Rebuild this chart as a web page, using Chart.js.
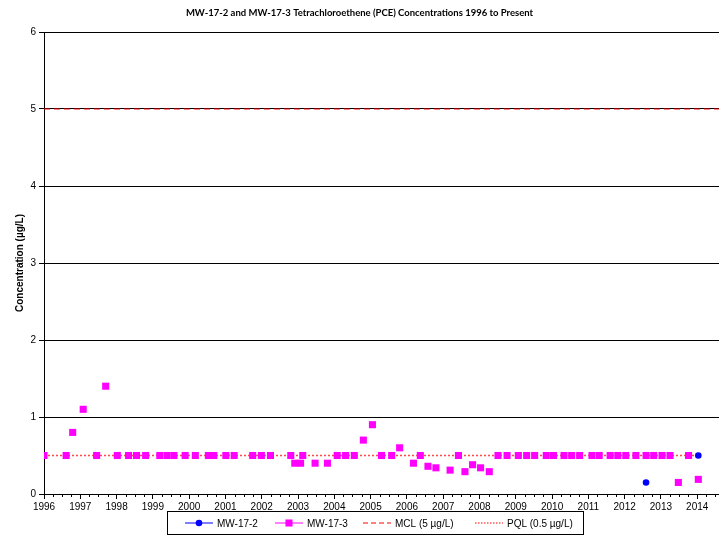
<!DOCTYPE html>
<html>
<head>
<meta charset="utf-8">
<title>MW-17-2 and MW-17-3 PCE</title>
<script src="https://cdn.jsdelivr.net/npm/chart.js@4.4.1/dist/chart.umd.min.js"></script>
<style>
  html, body { margin: 0; padding: 0; background: #fff; }
  #wrap { width: 719px; height: 540px; }
</style>
</head>
<body>
<div id="wrap"><canvas id="pce" width="719" height="540"></canvas></div>
<script>
'use strict';

// ── Data (sample dates as decimal years, concentrations in µg/L) ────────────

const mw172Dates  = [2012.59, 2014.03];
const mw172Values = [0.15, 0.5];

const mw173Dates = [
  1996.00, 1996.61, 1996.79, 1997.08, 1997.45, 1997.70, 1998.02, 1998.33,
  1998.55, 1998.80, 1999.19, 1999.39, 1999.58, 1999.89, 2000.17, 2000.53,
  2000.68, 2001.01, 2001.24, 2001.75, 2001.99, 2002.24, 2002.80, 2002.91,
  2003.07, 2003.13, 2003.47, 2003.81, 2004.08, 2004.31, 2004.55, 2004.80,
  2005.05, 2005.30, 2005.58, 2005.80, 2006.18, 2006.37, 2006.58, 2006.80,
  2007.19, 2007.42, 2007.60, 2007.81, 2008.03, 2008.27, 2008.51, 2008.76,
  2009.07, 2009.30, 2009.52, 2009.84, 2010.04, 2010.33, 2010.54, 2010.76,
  2011.10, 2011.30, 2011.60, 2011.81, 2012.03, 2012.31, 2012.59, 2012.80,
  2013.03, 2013.25, 2013.48, 2013.76, 2014.03,
];
const mw173Values = [
  0.5, 0.5, 0.8, 1.1, 0.5, 1.4, 0.5, 0.5,
  0.5, 0.5, 0.5, 0.5, 0.5, 0.5, 0.5, 0.5,
  0.5, 0.5, 0.5, 0.5, 0.5, 0.5, 0.5, 0.4,
  0.4, 0.5, 0.4, 0.4, 0.5, 0.5, 0.5, 0.7,
  0.9, 0.5, 0.5, 0.6, 0.4, 0.5, 0.36, 0.34,
  0.31, 0.5, 0.29, 0.38, 0.34, 0.29, 0.5, 0.5,
  0.5, 0.5, 0.5, 0.5, 0.5, 0.5, 0.5, 0.5,
  0.5, 0.5, 0.5, 0.5, 0.5, 0.5, 0.5, 0.5,
  0.5, 0.5, 0.15, 0.5, 0.19,
];

// Regulatory limits, drawn as flat reference lines
const mclDates  = [1996, 2014.6];
const mclValues = [5, 5];
const pqlDates  = [1996, 2014.03];
const pqlValues = [0.5, 0.5];

const seriesLabels = ['MW-17-2', 'MW-17-3', 'MCL (5 µg/L)', 'PQL (0.5 µg/L)'];

const X_MIN = 1996;
const X_MAX = 2014.6;
const Y_MIN = 0;
const Y_MAX = 6;

const ARIAL = "'Liberation Sans', Arial, sans-serif";

function pairs(xs, ys) {
  return xs.map((x, i) => ({ x: x, y: ys[i] }));
}

// ── Plugin: quarterly minor ticks + boxed legend under the axis ─────────────

const extrasPlugin = {
  id: 'extras',
  afterDraw(chart) {
    const ctx = chart.ctx;
    const xs = chart.scales.x;
    const yBase = chart.chartArea.bottom;

    // minor ticks every quarter year
    ctx.save();
    ctx.strokeStyle = '#000';
    ctx.lineWidth = 1;
    ctx.beginPath();
    for (let v = X_MIN; v <= X_MAX + 1e-6; v += 0.25) {
      if (Math.abs(v - Math.round(v)) < 1e-6) continue;
      const px = Math.round(xs.getPixelForValue(v)) + 0.5;
      ctx.moveTo(px, yBase);
      ctx.lineTo(px, yBase + 3);
    }
    ctx.stroke();
    ctx.restore();

    // legend
    const box = { x: 167.5, y: 511.5, w: 416, h: 23 };
    const cy = box.y + box.h / 2;
    const slots = [185, 275, 363, 475];
    const lineLen = 28;

    ctx.save();
    ctx.strokeStyle = '#000';
    ctx.lineWidth = 1;
    ctx.strokeRect(box.x, box.y, box.w, box.h);

    ctx.font = '10px ' + ARIAL;
    ctx.textBaseline = 'middle';
    ctx.textAlign = 'left';

    chart.data.datasets.forEach((ds, i) => {
      const x0 = slots[i];
      ctx.save();
      ctx.strokeStyle = ds.legendLine || ds.borderColor;
      ctx.lineWidth = 1;
      ctx.setLineDash(ds.legendDash || []);
      ctx.beginPath();
      ctx.moveTo(x0, cy);
      ctx.lineTo(x0 + lineLen, cy);
      ctx.stroke();
      ctx.restore();

      if (ds.pointRadius > 0) {
        ctx.fillStyle = ds.pointBackgroundColor;
        ctx.strokeStyle = ds.pointBackgroundColor;
        Chart.helpers.drawPoint(ctx, {
          pointStyle: ds.pointStyle,
          radius: ds.pointRadius,
          borderWidth: 0,
          rotation: 0,
        }, x0 + lineLen / 2, cy);
      }

      ctx.fillStyle = '#000';
      ctx.fillText(ds.label, x0 + lineLen + 4, cy + 1);
    });
    ctx.restore();
  },
};

// ── Chart ───────────────────────────────────────────────────────────────────

new Chart(document.getElementById('pce'), {
  type: 'scatter',
  data: {
    datasets: [
      {
        label: seriesLabels[0],
        data: pairs(mw172Dates, mw172Values),
        showLine: false,
        pointStyle: 'circle',
        pointRadius: 3.3,
        pointBackgroundColor: '#0000ff',
        pointBorderWidth: 0,
        borderColor: '#0000ff',
      },
      {
        label: seriesLabels[1],
        data: pairs(mw173Dates, mw173Values),
        showLine: false,
        pointStyle: 'rect',
        pointRadius: 5,
        pointBackgroundColor: '#ff00ff',
        pointBorderWidth: 0,
        borderColor: '#ff00ff',
      },
      {
        label: seriesLabels[2],
        data: pairs(mclDates, mclValues),
        showLine: true,
        pointRadius: 0,
        borderColor: '#ff0000',
        borderWidth: 1,
        borderDash: [6, 4],
        legendDash: [5, 3],
      },
      {
        label: seriesLabels[3],
        data: pairs(pqlDates, pqlValues),
        showLine: true,
        pointRadius: 0,
        borderColor: 'rgba(255, 40, 40, 0.85)',
        borderWidth: 1.5,
        borderDash: [2, 2],
        legendLine: '#ff0000',
        legendDash: [1.5, 1.5],
      },
    ],
  },
  options: {
    responsive: false,
    animation: false,
    layout: {
      // no extra room for marker overflow: the plot runs to the canvas edge
      autoPadding: false,
      padding: { left: 0, right: 0, top: 0, bottom: 0 },
    },
    plugins: {
      legend: { display: false },
      tooltip: { enabled: false },
      title: {
        display: true,
        text: 'MW-17-2 and MW-17-3 Tetrachloroethene (PCE) Concentrations 1996 to Present',
        color: '#000',
        font: { family: "Lato, 'Open Sans', sans-serif", size: 9.5, weight: 'bold', lineHeight: 1.2 },
        padding: { top: 7, bottom: 13.6 },
      },
    },
    scales: {
      x: {
        type: 'linear',
        min: X_MIN,
        max: X_MAX,
        afterFit(scale) {
          scale.height = 46;
          scale.paddingLeft = 0;
          scale.paddingRight = 0;
        },
        afterBuildTicks(scale) {
          scale.ticks = scale.ticks.filter(t => Number.isInteger(t.value));
        },
        ticks: {
          stepSize: 1,
          includeBounds: false,
          autoSkip: false,
          maxRotation: 0,
          padding: 2,
          color: '#000',
          font: { family: ARIAL, size: 10 },
          callback: v => String(v),
        },
        grid: {
          drawOnChartArea: false,
          drawTicks: true,
          tickLength: 5,
          tickColor: '#000',
        },
        border: { color: '#000', width: 1 },
      },
      y: {
        min: Y_MIN,
        max: Y_MAX,
        afterFit(scale) { scale.width = 44; },
        ticks: {
          stepSize: 1,
          padding: 3,
          color: '#000',
          font: { family: ARIAL, size: 10 },
        },
        grid: {
          color: '#000',
          lineWidth: 1,
          tickLength: 5,
          tickColor: '#000',
        },
        border: { color: '#000', width: 1 },
        title: {
          display: true,
          text: 'Concentration (µg/L)',
          color: '#000',
          font: { family: ARIAL, size: 10, weight: 'bold' },
          padding: { top: 14, bottom: 0 },
        },
      },
    },
  },
  plugins: [extrasPlugin],
});
</script>
</body>
</html>
